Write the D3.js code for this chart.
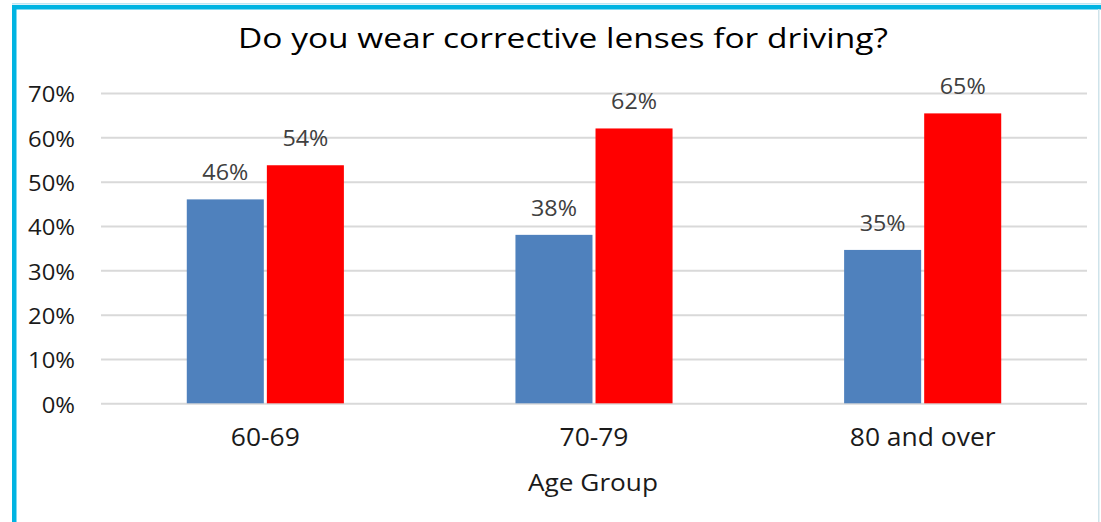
<!DOCTYPE html>
<html>
<head>
<meta charset="utf-8">
<script src="https://cdn.jsdelivr.net/npm/d3@7"></script>
<style>
  html, body { margin: 0; padding: 0; background: #fff; }
  svg { display: block; }
  text { font-family: "Open Sans", "Noto Sans", sans-serif; }
</style>
</head>
<body>
<svg id="chart" width="1101" height="522"></svg>
<script>
const title = "Do you wear corrective lenses for driving?";
const xTitle = "Age Group";
const categories = ["60-69", "70-79", "80 and over"];
const seriesNames = ["Yes", "No"];
const yesValues = [0.46, 0.38, 0.346];
const noValues = [0.537, 0.62, 0.654];
const yTicks = [0, 0.1, 0.2, 0.3, 0.4, 0.5, 0.6, 0.7];
const colors = ["#4F81BD", "#FF0000"];

const data = categories.map((c, i) => ({ cat: c, vals: [yesValues[i], noValues[i]] }));

const svg = d3.select("#chart");

// horizontal stretch of text to mimic the wide rendering of the original
function stretch(sel, sx) {
  sel.each(function () {
    const t = d3.select(this);
    const x = +(t.attr("x") || 0);
    t.attr("transform", `translate(${x},0) scale(${sx},1) translate(${-x},0)`);
  });
}
function widthOf(node) { return node.getComputedTextLength(); }

// frame
svg.append("rect").attr("x", 0).attr("y", 0).attr("width", 1101).attr("height", 522).attr("fill", "#fff");
svg.append("rect").attr("x", 12).attr("y", 3).attr("width", 1089).attr("height", 1.5).attr("fill", "#bfe6f3");
svg.append("rect").attr("x", 12).attr("y", 5).attr("width", 1089).attr("height", 4.5).attr("fill", "#00B4E2");
svg.append("rect").attr("x", 12).attr("y", 5).attr("width", 4.5).attr("height", 517).attr("fill", "#00B4E2");
svg.append("rect").attr("x", 1098).attr("y", 9).attr("width", 1.5).attr("height", 513).attr("fill", "#cfe3ea");

const mLeft = 101, mRight = 1087, mTop = 93, mBottom = 403.3;

const y = d3.scaleLinear().domain([0, 0.7]).range([mBottom, mTop]);
const x0 = d3.scaleBand().domain(categories).range([mLeft, mRight]).paddingInner(0.522).paddingOuter(0.261);
const x1 = d3.scaleBand().domain(seriesNames).range([0, x0.bandwidth()]).paddingInner(0.038);

// gridlines + y labels
const yAxis = d3.axisLeft(y).tickValues(yTicks).tickFormat(d3.format(".0%")).tickSize(-(mRight - mLeft)).tickPadding(26);
const gy = svg.append("g").attr("transform", `translate(${mLeft},0)`).call(yAxis);
gy.select(".domain").remove();
gy.selectAll(".tick line").attr("stroke", "#D9D9D9").attr("stroke-width", 2);
const yLabels = gy.selectAll(".tick text").attr("fill", "#1a1a1a").style("font-size", "22px").attr("dy", "0.4em");
const ySx = 47 / widthOf(yLabels.nodes()[yLabels.size() - 1]);
stretch(yLabels, ySx);

// bars
const groups = svg.append("g").selectAll("g").data(data).join("g")
  .attr("transform", d => `translate(${x0(d.cat)},0)`);
groups.selectAll("rect").data(d => d.vals.map((v, j) => ({ s: seriesNames[j], v, j }))).join("rect")
  .attr("x", d => x1(d.s)).attr("width", x1.bandwidth())
  .attr("y", d => y(d.v)).attr("height", d => y(0) - y(d.v))
  .attr("fill", d => colors[d.j]);
const dLabels = groups.selectAll("text").data(d => d.vals.map((v, j) => ({ s: seriesNames[j], v, j }))).join("text")
  .attr("x", d => x1(d.s) + x1.bandwidth() / 2).attr("y", d => y(d.v) - 19)
  .attr("text-anchor", "middle").attr("fill", "#404040").style("font-size", "22px")
  .text(d => d3.format(".0%")(d.v));
stretch(dLabels, 46 / widthOf(dLabels.nodes()[0]));

// x axis
const xAxis = d3.axisBottom(x0).tickSize(0).tickPadding(25);
const gx = svg.append("g").attr("transform", `translate(0,${mBottom})`).call(xAxis);
gx.select(".domain").remove();
const xLabels = gx.selectAll(".tick text").attr("fill", "#1a1a1a").style("font-size", "25px");
stretch(xLabels, 69 / widthOf(xLabels.nodes()[1]));

// titles
const tTitle = svg.append("text").attr("x", 563).attr("y", 48.5).attr("text-anchor", "middle")
  .attr("fill", "#000").style("font-size", "26.5px").text(title);
stretch(tTitle, 650 / widthOf(tTitle.node()));
const tX = svg.append("text").attr("x", 593).attr("y", 491.5).attr("text-anchor", "middle")
  .attr("fill", "#1a1a1a").style("font-size", "23.5px").text(xTitle);
stretch(tX, 130 / widthOf(tX.node()));
</script>
</body>
</html>
